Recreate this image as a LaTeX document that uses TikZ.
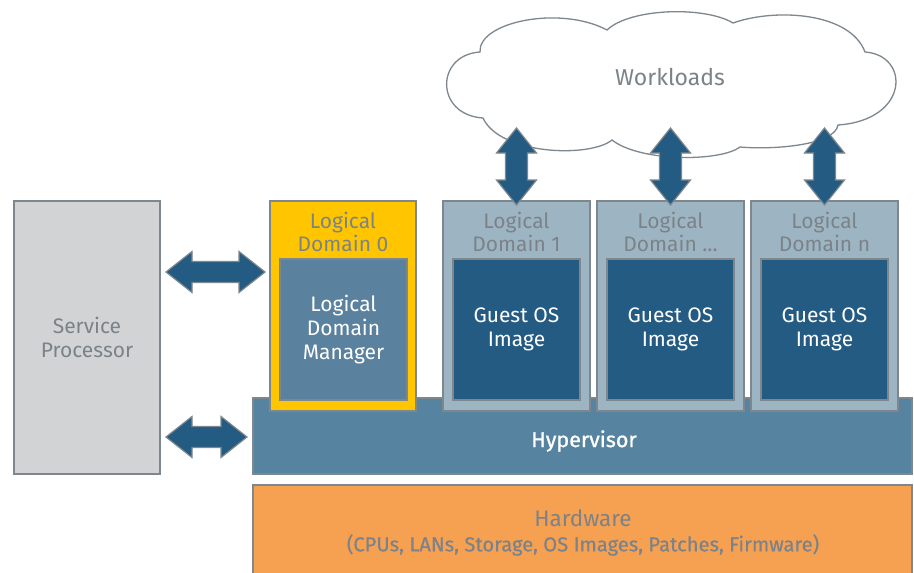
\documentclass[tikz,border=0pt]{standalone}
\usepackage{fontspec}
\setmainfont{Fira Sans}
\usetikzlibrary{calc}
\definecolor{txtgray}{HTML}{7B8388}
\definecolor{bordergray}{HTML}{7E878D}
\definecolor{spfill}{HTML}{D2D3D5}
\definecolor{ldyellow}{HTML}{FFC600}
\definecolor{ldfill}{HTML}{9DB5C3}
\definecolor{ldmfill}{HTML}{5A829E}
\definecolor{guestfill}{HTML}{245B82}
\definecolor{hypfill}{HTML}{56839F}
\definecolor{hwfill}{HTML}{F6A052}
\newcommand\vdarrow[2]{\draw[blockarrow] (#1) -- ($(#1)+(20,25)$) -- ($(#1)+(11,25)$) -- ($(#2)+(11,-25)$) -- ($(#2)+(20,-25)$) -- (#2) -- ($(#2)+(-20,-25)$) -- ($(#2)+(-11,-25)$) -- ($(#1)+(-11,25)$) -- ($(#1)+(-20,25)$) -- cycle;}
\newcommand\hdarrow[2]{\draw[blockarrow] (#1) -- ($(#1)+(26,-20.5)$) -- ($(#1)+(26,-10.5)$) -- ($(#2)+(-26,-10.5)$) -- ($(#2)+(-26,-20.5)$) -- (#2) -- ($(#2)+(-26,20.5)$) -- ($(#2)+(-26,10.5)$) -- ($(#1)+(26,10.5)$) -- ($(#1)+(26,20.5)$) -- cycle;}
\begin{document}
\begin{tikzpicture}[x=1pt,y=-1pt,
  box/.style={draw=bordergray, line width=1.2pt, inner sep=0pt, outer sep=0pt, anchor=north west, align=center},
  blockarrow/.style={draw=bordergray, fill=guestfill, line width=1.2pt, line join=miter},
  graytxt/.style={text=txtgray, font=\fontsize{21}{23.5}\selectfont, align=center, inner sep=0pt},
  whitetxt/.style={text=white, font=\fontsize{21}{24}\selectfont},
  ldbox/.style={box, fill=ldfill, minimum width=147pt, minimum height=210pt},
  guestbox/.style={box, fill=guestfill, minimum width=127pt, minimum height=141pt, whitetxt}
]
\useasboundingbox (0,0) rectangle (914,573);
\fill[white] (0,0) rectangle (914,573);

% cloud
\draw[bordergray, fill=white, line width=1.3pt]
 (480,52) .. controls (478,22) and (560,5) .. (607,30)
 .. controls (630,8) and (705,6) .. (733,23)
 .. controls (775,8) and (850,12) .. (865,52)
 .. controls (910,55) and (910,120) .. (838,125)
 .. controls (835,145) and (775,150) .. (740,147)
 .. controls (720,162) and (640,162) .. (612,140)
 .. controls (590,158) and (500,155) .. (483,118)
 .. controls (435,115) and (435,55) .. (480,52) -- cycle;
\node[graytxt, font=\fontsize{23}{26}\selectfont] (cloud) at (670,77) {Workloads};

% service processor
\node[box, fill=spfill, minimum width=146pt, minimum height=273pt, graytxt] (sp) at (14,201) {Service\\Processor};

% hardware and hypervisor
\node[box, fill=hwfill, minimum width=659pt, minimum height=95pt] (hw) at (253,485) {};
\node[graytxt, font=\fontsize{22.5}{26}\selectfont] (hwl) at (583,518) {Hardware};
\node[text=txtgray, font=\fontsize{20.2}{22}\selectfont\addfontfeature{FakeBold=0.4}] (hwd) at (583,545) {(CPUs, LANs, Storage, OS Images, Patches, Firmware)};
\node[box, fill=hypfill, minimum width=659pt, minimum height=76pt] (hyp) at (253,398) {};
\node[whitetxt, font=\fontsize{21.5}{24}\selectfont\addfontfeature{FakeBold=1}] (hypl) at (584,441) {Hypervisor};

% logical domain 0
\node[box, fill=ldyellow, minimum width=146pt, minimum height=210pt] (ld0) at (270,201) {};
\node[graytxt] (ld0l) at (343,232) {Logical\\Domain 0};
\node[box, fill=ldmfill, minimum width=127pt, minimum height=141pt, whitetxt] (ldm) at (280,259) {Logical\\Domain\\Manager};

% logical domains 1..n
\node[ldbox] (ld1) at (443,201) {};
\node[graytxt] (ld1l) at (516.5,232) {Logical\\Domain 1};
\node[guestbox] (g1) at (453,259) {Guest OS\\Image};
\node[ldbox] (ld2) at (597,201) {};
\node[graytxt] (ld2l) at (670.5,232) {Logical\\Domain ...};
\node[guestbox] (g2) at (607,259) {Guest OS\\Image};
\node[ldbox] (ld3) at (751,201) {};
\node[graytxt] (ld3l) at (824.5,232) {Logical\\Domain n};
\node[guestbox] (g3) at (761,259) {Guest OS\\Image};

% arrows
\coordinate (h1a) at ($(sp.north east)+(6,71)$);
\coordinate (h1b) at ($(ld0.north west)+(-5,71)$);
\coordinate (h2a) at ($(sp.north east)+(6,236)$);
\coordinate (h2b) at ($(hyp.north west)+(-6,39)$);
\hdarrow{h1a}{h1b}
\hdarrow{h2a}{h2b}
\coordinate (v1a) at ($(ld1.north)+(0,-73)$);
\coordinate (v1b) at ($(ld1.north)+(0,4)$);
\coordinate (v2a) at ($(ld2.north)+(0,-73)$);
\coordinate (v2b) at ($(ld2.north)+(0,4)$);
\coordinate (v3a) at ($(ld3.north)+(0,-73)$);
\coordinate (v3b) at ($(ld3.north)+(0,4)$);
\vdarrow{v1a}{v1b}
\vdarrow{v2a}{v2b}
\vdarrow{v3a}{v3b}
\end{tikzpicture}
\end{document}
